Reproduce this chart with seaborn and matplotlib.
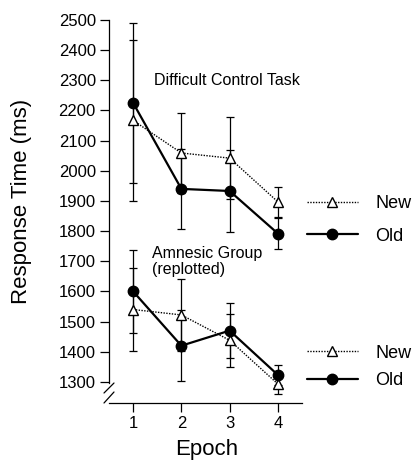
import matplotlib
matplotlib.use("Agg")
import matplotlib.pyplot as plt
from matplotlib.lines import Line2D
import seaborn as sns
import pandas as pd

# Data
epochs = [1, 2, 3, 4]

difficult_old = [2225, 1940, 1933, 1792]
difficult_old_err = [265, 133, 136, 50]
difficult_new = [2167, 2059, 2042, 1897]
difficult_new_err = [268, 133, 136, 50]

amnesic_old = [1600, 1420, 1470, 1323]
amnesic_old_err = [138, 118, 90, 33]
amnesic_new = [1540, 1522, 1438, 1293]
amnesic_new_err = [138, 119, 88, 33]

sns.set_style("ticks")
plt.rcParams['font.family'] = ['Liberation Sans', 'DejaVu Sans']
plt.rcParams['text.color'] = 'black'
plt.rcParams['xtick.color'] = 'black'
plt.rcParams['ytick.color'] = 'black'
plt.rcParams['xtick.labelcolor'] = 'black'
plt.rcParams['ytick.labelcolor'] = 'black'

fig = plt.figure(figsize=(4.12, 4.62), dpi=100)
ax = fig.add_axes([109 / 412, 1 - 403 / 462, 193 / 412, 383 / 462])

styles = {
    "New": dict(marker="^", linestyle=(0, (1, 1)), linewidth=1.0,
                markerfacecolor="white", markeredgecolor="black", markersize=7),
    "Old": dict(marker="o", linestyle="-", linewidth=1.6,
                markerfacecolor="black", markeredgecolor="black", markersize=7.5),
}

groups = [
    ("New", difficult_new, difficult_new_err),
    ("Old", difficult_old, difficult_old_err),
    ("New", amnesic_new, amnesic_new_err),
    ("Old", amnesic_old, amnesic_old_err),
]

for kind, vals, errs in groups:
    df = pd.DataFrame({"Epoch": epochs, "RT": vals})
    ax.errorbar(df["Epoch"], df["RT"], yerr=errs, fmt="none", ecolor="black",
                elinewidth=0.9, capsize=3, capthick=0.9, zorder=2)
    st = styles[kind]
    sns.lineplot(data=df, x="Epoch", y="RT", ax=ax, color="black",
                 marker=st["marker"], linestyle=st["linestyle"], linewidth=st["linewidth"],
                 markerfacecolor=st["markerfacecolor"], markeredgecolor=st["markeredgecolor"],
                 markersize=st["markersize"], markeredgewidth=1.0, zorder=3)

ax.set_xlim(0.5, 4.5)
ax.set_ylim(1230, 2500)
ax.set_xticks(epochs)
ax.set_yticks(range(1300, 2501, 100))
ax.set_xlabel("")
ax.set_ylabel("")
ax.tick_params(axis="both", labelsize=12, length=6.5, width=0.9, pad=3,
               color="black", labelcolor="black")
for s in ["top", "right"]:
    ax.spines[s].set_visible(False)
for s in ["left", "bottom"]:
    ax.spines[s].set_color("black")
    ax.spines[s].set_linewidth(0.9)
ax.spines["left"].set_bounds(1296, 2500)

# axis break marks
h = 383.0
for y0 in [(393, 383), (403, 392)]:
    ax.plot([-5 / 193, 5 / 193], [(403 - y0[0]) / h, (403 - y0[1]) / h],
            transform=ax.transAxes, color="black", linewidth=0.9, clip_on=False)

ax.text(1.43, 2298, "Difficult Control Task", fontsize=11.5, ha="left", va="center")
ax.text(1.40, 1700, "Amnesic Group\n(replotted)", fontsize=11.5, ha="left", va="center",
        linespacing=1.05)

fig.text(22 / 412, 1 - 201 / 462, "Response Time (ms)", rotation=90,
         fontsize=16, ha="center", va="center")
fig.text(207 / 412, 1 - 455 / 462, "Epoch", fontsize=16, ha="center", va="baseline")

def handles():
    return [Line2D([], [], color="black", **styles["New"]),
            Line2D([], [], color="black", **styles["Old"])]

leg_kw = dict(frameon=False, loc="center left", fontsize=13, handlelength=2.8,
              handletextpad=1.0, borderaxespad=0, borderpad=0)
leg1 = fig.legend(handles(), ["New", "Old"], bbox_to_anchor=(307 / 412, 1 - 220 / 462),
                  labelspacing=0.85, **leg_kw)
leg2 = fig.legend(handles(), ["New", "Old"], bbox_to_anchor=(307 / 412, 1 - 367 / 462),
                  labelspacing=0.6, **leg_kw)

fig.savefig("out.png", dpi=100)
